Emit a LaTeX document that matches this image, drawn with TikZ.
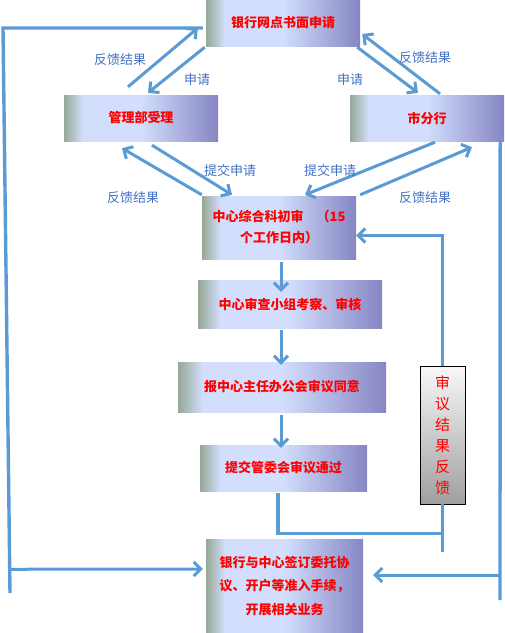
\documentclass[tikz,border=0pt]{standalone}
\usepackage{fontspec}
\newfontfamily\cjk{Noto Sans CJK SC}
\usetikzlibrary{arrows.meta,calc}

\definecolor{flowblue}{RGB}{91,155,213}
\definecolor{labelblue}{RGB}{68,114,196}
\definecolor{shadegreen}{RGB}{150,168,150}
\definecolor{shadelight}{RGB}{210,222,252}
\definecolor{shadepurple}{RGB}{134,134,196}
\pgfdeclarehorizontalshading{stepshade}{100bp}{color(0bp)=(shadegreen); color(25bp)=(shadegreen); color(31bp)=(shadelight); color(50bp)=(shadelight); color(75bp)=(shadepurple); color(100bp)=(shadepurple)}

\begin{document}
\begin{tikzpicture}[
  x=1pt, y=-1pt,
  >={Straight Barb[length=7pt,width=14pt]},
  every node/.style={font=\cjk},
  proc/.style={shade, shading=stepshade, minimum width=154pt, minimum height=46pt, inner sep=2pt, align=center, text=red, font=\cjk\bfseries\fontsize{13}{21}\selectfont},
  flow/.style={->, draw=flowblue, line width=3pt},
  feed/.style={draw=flowblue, line width=3.4pt},
  lbl/.style={text=labelblue, font=\cjk\fontsize{13}{15}\selectfont}
]
\useasboundingbox (0,0) rectangle (505,633);

% boxes
\node[proc] (bank) at (283,23) {银行网点书面申请};
\node[proc] (mgmt) at (141,118) {管理部受理};
\node[proc] (city) at (427,118) {市分行};
\node[proc, minimum height=63pt] (first) at (279,227.5) {中心综合科初审　（15\\个工作日内）};
\node[proc, minimum width=184pt, minimum height=48pt] (group) at (290,304) {中心审查小组考察、审核};
\node[proc, minimum width=208pt, minimum height=50pt] (office) at (282,387) {报中心主任办公会审议同意};
\node[proc, minimum width=167pt] (board) at (283.5,468) {提交管委会审议通过};
\node[proc, minimum width=157pt, minimum height=94pt, font=\cjk\bfseries\fontsize{13}{23.5}\selectfont] (sign) at (284.5,586) {银行与中心签订委托协\\议、开户等准入手续，\\开展相关业务};
\node[draw=black, thick, top color=gray!6, bottom color=gray!75, minimum width=45pt, minimum height=138pt, inner sep=2pt, align=center, text=red, font=\cjk\fontsize{15}{21}\selectfont] (result) at (442.5,435) {审\\议\\结\\果\\反\\馈};

% upper arrows
\draw[flow] ([xshift=-13pt,yshift=8pt]mgmt.north) -- ([xshift=-8pt,yshift=-5pt]bank.west);
\draw[flow] ([xshift=-1pt,yshift=-1pt]bank.south west) -- ([xshift=7pt,yshift=2pt]mgmt.north);
\draw[flow] ([xshift=-3pt,yshift=-1pt]bank.south east) -- ([xshift=-9pt,yshift=2pt]city.north);
\draw[flow] ([xshift=13pt,yshift=1pt]city.north) -- ([xshift=2pt,yshift=-11pt]bank.east);
\draw[flow] ([xshift=11pt,yshift=-4pt]mgmt.south) -- ([xshift=-47pt,yshift=1pt]first.north);
\draw[flow] ([yshift=1pt]first.north west) -- ([xshift=-19pt,yshift=-7pt]mgmt.south);
\draw[flow] ([xshift=8pt,yshift=-1pt]city.south) -- ([xshift=26pt,yshift=1pt]first.north);
\draw[flow] ([xshift=4pt,yshift=1pt]first.north east) -- ([xshift=45pt,yshift=-6pt]city.south);

% labels
\node[lbl] (fbA) at (120,60) {反馈结果};
\node[lbl] (apA) at (197,80) {申请};
\node[lbl] (apB) at (350,80) {申请};
\node[lbl] (fbB) at (425,58) {反馈结果};
\node[lbl] (subA) at (230,171) {提交申请};
\node[lbl] (subB) at (330,171) {提交申请};
\node[lbl] (fbC) at (133,198) {反馈结果};
\node[lbl] (fbD) at (425,198) {反馈结果};

% main chain
\draw[flow, shorten >=-12pt] ([xshift=2pt,yshift=-3pt]first.south) -- ([xshift=2pt]first.south |- group.north);
\draw[flow, shorten >=-3pt] ([xshift=-9pt,yshift=-2pt]group.south) -- ([xshift=-9pt]group.south |- office.north);
\draw[flow, shorten >=-3pt] ([xshift=-1pt,yshift=-3pt]office.south) -- ([xshift=-1pt]office.south |- board.north);

% review feedback
\draw[feed] ([xshift=-5.5pt,yshift=-2pt]board.south) |- ([yshift=-29pt]result.south);
\draw[feed] (result.south) -- ++(0,48);
\draw[flow] (result.north) |- ([yshift=-8pt]first.east);

% outer loops
\coordinate (ltop) at (3,28);
\coordinate (lbot) at (10,593);
\coordinate (rbot) at (500,600);
\draw[feed] (lbot) -- (ltop) -- ([xshift=-3pt,yshift=-5pt]bank.west);
\draw[flow] ($(ltop)!0.958!(lbot)$) -- ([xshift=-3pt,yshift=17pt]sign.west);
\draw[feed] ([xshift=-4pt]city.south east) -- (rbot);
\draw[flow] ([yshift=25pt]rbot) -- ([xshift=10pt,yshift=11pt]sign.east);
\end{tikzpicture}
\end{document}
